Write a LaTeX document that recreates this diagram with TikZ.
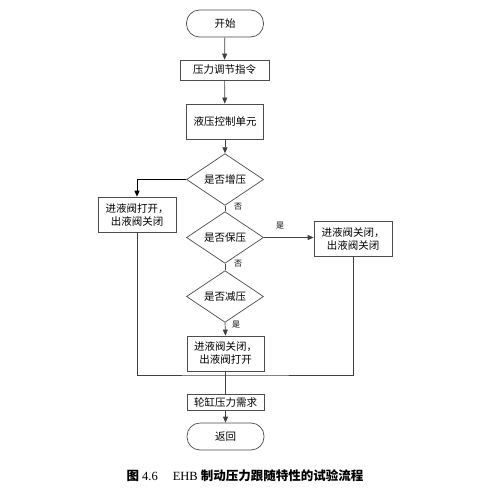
\documentclass[tikz,border=0pt]{standalone}
\usepackage{fontspec}
\setmainfont{Liberation Serif}
\newfontfamily\cjk{Noto Sans CJK SC}
\usetikzlibrary{shapes.geometric,arrows.meta}
\begin{document}
\begin{tikzpicture}[x=1pt,y=-1pt,
  line/.style={draw=black!75, line width=0.7pt},
  arr/.style={line, -{Triangle[length=6pt,width=5pt]}},
  box/.style={draw=black!70, line width=0.7pt, rectangle, minimum width=77pt, minimum height=35pt, inner sep=1pt, align=center, font=\cjk\fontsize{10.5}{13}\selectfont},
  term/.style={box, rounded corners=13pt, minimum height=27pt},
  dec/.style={draw=black!70, line width=0.7pt, diamond, minimum width=77pt, minimum height=39pt, inner sep=0pt, font=\cjk\fontsize{10.5}{13}\selectfont},
  lab/.style={font=\cjk\fontsize{8}{9}\selectfont, inner sep=0pt}]
\useasboundingbox (0,0) rectangle (500,487);
\fill[white] (0,0) rectangle (500,487);
\node[term] (start) at (225,23.5) {开始};
\node[box, minimum width=89pt, minimum height=20pt] (cmd) at (224.5,70) {压力调节指令};
\node[box] (hcu) at (225,121.5) {液压控制单元};
\node[dec] (d1) at (225,179.5) {是否增压};
\node[box, minimum width=78pt] (lb) at (137,214.5) {进液阀打开，\\出液阀关闭};
\node[dec] (d2) at (225,237.5) {是否保压};
\node[box, minimum width=78pt] (rb) at (353,238.5) {进液阀关闭，\\出液阀关闭};
\node[dec] (d3) at (225,296.5) {是否减压};
\node[box] (bb) at (225.5,353.5) {进液阀关闭，\\出液阀打开};
\coordinate (j) at (225.5,375);
\node[box, minimum height=16pt] (wc) at (225.5,402.5) {轮缸压力需求};
\node[term] (ret) at (225.5,436.5) {返回};
\node[inner sep=0pt, font=\fontsize{12.5}{15}\selectfont] (cap) at (245,476) {{\cjk\bfseries 图} 4.6\hspace{1.2em}EHB {\cjk\bfseries 制动压力跟随特性的试验流程}};
\node[lab] (l1) at (238,207) {否};
\node[lab] (l2) at (280,226) {是};
\node[lab] (l3) at (238,264) {否};
\node[lab] (l4) at (236,325) {是};
\draw[arr] (start) -- (cmd);
\draw[arr] (cmd) -- (hcu);
\draw[arr] (hcu) -- (d1);
\draw[arr, line width=1pt, draw=black] (d1.west) -| (lb.north);
\draw[line] (d1.south) -- (d2.north);
\draw[arr] (d2.east) -- (rb.west |- d2.east);
\draw[line] (d2.south) -- (d3.north);
\draw[arr] (d3.south) -- (bb.north);
\draw[line] (lb.south) |- (j) -| (rb.south);
\draw[line] (bb.south) -- (wc.north);
\draw[arr] (wc.south) -- (ret.north);
\end{tikzpicture}
\end{document}
